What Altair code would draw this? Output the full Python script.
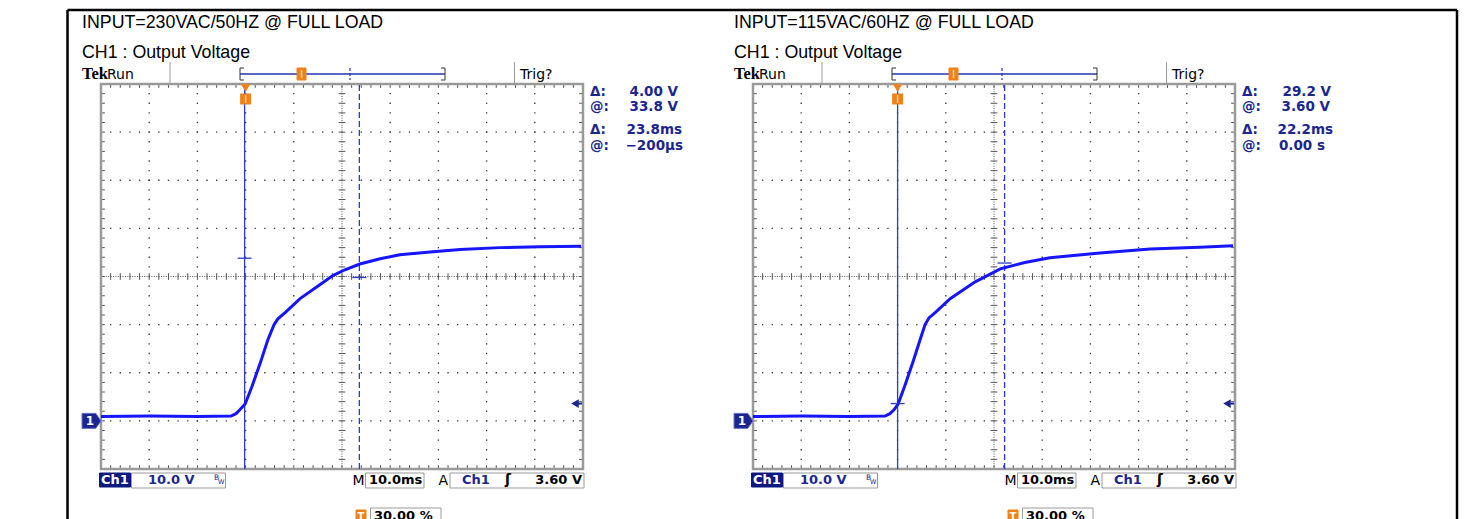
import altair as alt
import numpy as np
import pandas as pd

# ---------------- data ----------------
T_DOMAIN = [-30, 70]        # ms : 10 ms/div, trigger at 30 %
V_DOMAIN = [-10, 70]        # V  : 10 V/div, ground 1 div above bottom
T_INNER = [-20, -10, 0, 10, 30, 40, 50, 60]
V_INNER = [0, 10, 20, 40, 50, 60]
T_CENTER = 20
V_CENTER = 30

TITLES = ["INPUT=230VAC/50HZ @ FULL LOAD", "INPUT=115VAC/60HZ @ FULL LOAD"]
SUBTITLE = "CH1 : Output Voltage"

TRACE_230_T = [-30, -20, -10, -3.0, -2.0, -1.2, -0.1, 1.3, 3.0, 4.6, 5.9, 6.7, 8.2,
               11.3, 15.4, 18.1, 20.6, 23.7, 27.9, 32.0, 38.3, 44.5, 52.8, 61.1, 69.6]
TRACE_230_V = [0.9, 1.0, 0.9, 1.0, 1.5, 2.3, 3.5, 7.1, 11.9, 16.8, 20.0, 21.2, 22.5,
               25.4, 28.3, 30.2, 31.4, 32.6, 33.7, 34.5, 35.1, 35.6, 36.0, 36.2, 36.3]

TRACE_115_T = [-30, -20, -10, -2.6, -1.6, -0.75, 0.1, 1.5, 3.2, 4.65, 5.7, 6.5, 7.8,
               10.9, 16.1, 21.3, 26.4, 31.6, 42.0, 52.4, 62.7, 69.6]
TRACE_115_V = [0.9, 1.0, 0.9, 1.0, 1.5, 2.3, 3.5, 7.3, 12.3, 16.8, 20.0, 21.4, 22.5,
               25.4, 28.9, 31.6, 32.9, 33.9, 34.9, 35.7, 36.1, 36.4]

CURSOR_230_T = [-0.2, 23.6]
CURSOR_230_V = [33.8, 29.8]
CURSOR_115_T = [0.0, 22.2]
CURSOR_115_V = [3.6, 32.8]

READOUT_KEYS = ["\u0394:", "@:", "\u0394:", "@:"]
READOUT_230 = ["4.00 V", "33.8 V", "23.8ms", "\u2212200\u00b5s"]
READOUT_115 = ["29.2 V", "3.60 V", "22.2ms", "0.00 s"]

CH_SCALE = "10.0 V"
TIME_SCALE = "10.0ms"
TRIG_LEVEL = 3.6
TRIG_LEVEL_TXT = "3.60 V"
TRIG_POS_TXT = "30.00 %"

# ---------------- style ----------------
W, H = 482, 385
NAVY = "#1b2690"
TRACE = "#1515ff"
CURSOR = "#2c3cc8"
ORANGE = "#f08018"
GRIDC = "#3a3a3a"
BORDER = "#9a9a9a"
TEK = "DejaVu Sans"
NARROW = "Liberation Sans"

xs = alt.Scale(domain=T_DOMAIN, nice=False, zero=False)
ys = alt.Scale(domain=V_DOMAIN, nice=False, zero=False)
ONE = pd.DataFrame({"a": [0]})


def X(f="t"):
    return alt.X(f"{f}:Q", scale=xs, axis=None)


def Y(f="v"):
    return alt.Y(f"{f}:Q", scale=ys, axis=None)


def text(s, x, y, size=13, color=NAVY, font=TEK, weight="bold", align="left"):
    return alt.Chart(ONE).mark_text(
        text=s, fontSize=size, color=color, font=font, fontWeight=weight,
        align=align, baseline="alphabetic"
    ).encode(x=alt.value(x), y=alt.value(y))


def box(x1, x2, y1, y2, fill="white", stroke=BORDER, sw=1):
    return alt.Chart(ONE).mark_rect(fill=fill, stroke=stroke, strokeWidth=sw).encode(
        x=alt.value(x1), x2=alt.value(x2), y=alt.value(y1), y2=alt.value(y2))


def seg(x1, x2, y1, y2, color, sw=1.0, dash=None):
    kw = {"strokeDash": dash} if dash else {}
    return alt.Chart(ONE).mark_rule(color=color, strokeWidth=sw, **kw).encode(
        x=alt.value(x1), x2=alt.value(x2), y=alt.value(y1), y2=alt.value(y2))


minor_t = np.round(np.arange(T_DOMAIN[0], T_DOMAIN[1] + 0.001, 2), 6)
minor_v = np.round(np.arange(V_DOMAIN[0], V_DOMAIN[1] + 0.001, 2), 6)

dots_df = pd.DataFrame(
    [{"t": tt, "v": vv} for tt in T_INNER for vv in minor_v[1:-1]]
    + [{"t": tt, "v": vv} for vv in V_INNER for tt in minor_t[1:-1]]
)
tick_rows = []
for vv in minor_v[1:-1]:
    tick_rows.append({"t": T_CENTER - 0.7, "t2": T_CENTER + 0.7, "v": vv, "v2": vv})
    tick_rows.append({"t": T_DOMAIN[0], "t2": T_DOMAIN[0] + 0.8, "v": vv, "v2": vv})
    tick_rows.append({"t": T_DOMAIN[1] - 0.8, "t2": T_DOMAIN[1], "v": vv, "v2": vv})
for tt in minor_t[1:-1]:
    tick_rows.append({"t": tt, "t2": tt, "v": V_CENTER - 0.7, "v2": V_CENTER + 0.7})
    tick_rows.append({"t": tt, "t2": tt, "v": V_DOMAIN[0], "v2": V_DOMAIN[0] + 0.8})
    tick_rows.append({"t": tt, "t2": tt, "v": V_DOMAIN[1] - 0.8, "v2": V_DOMAIN[1]})
ticks_df = pd.DataFrame(tick_rows)
center_df = pd.DataFrame([
    {"t": T_CENTER, "t2": T_CENTER, "v": V_DOMAIN[0], "v2": V_DOMAIN[1]},
    {"t": T_DOMAIN[0], "t2": T_DOMAIN[1], "v": V_CENTER, "v2": V_CENTER},
])
frame_df = pd.DataFrame([{"t": T_DOMAIN[0], "t2": T_DOMAIN[1], "v": V_DOMAIN[0], "v2": V_DOMAIN[1]}])

GROUND_SHAPE = "M-1,-0.79 L0.45,-0.79 L1,0 L0.45,0.79 L-1,0.79 Z"


def panel(title, tr_t, tr_v, cur_t, cur_v, readout, ends, page_frame=False):
    L = []
    # graticule
    L.append(alt.Chart(dots_df).mark_square(size=1.8, color=GRIDC, opacity=1).encode(x=X(), y=Y()))
    L.append(alt.Chart(center_df).mark_rule(color="#555555", strokeWidth=1, strokeDash=[1, 1.4]).encode(
        x=X(), x2="t2:Q", y=Y(), y2="v2:Q"))
    L.append(alt.Chart(ticks_df).mark_rule(color="#555555", strokeWidth=1).encode(
        x=X(), x2="t2:Q", y=Y(), y2="v2:Q"))
    L.append(alt.Chart(frame_df).mark_rect(fillOpacity=0, stroke=BORDER, strokeWidth=2.5).encode(
        x=X(), x2="t2:Q", y=Y(), y2="v2:Q"))
    # cursors
    cdf = pd.DataFrame({"t": cur_t, "v": [V_DOMAIN[0]] * 2, "v2": [V_DOMAIN[1]] * 2})
    L.append(alt.Chart(cdf.iloc[[0]]).mark_rule(color=CURSOR, strokeWidth=1.3).encode(x=X(), y=Y(), y2="v2:Q"))
    L.append(alt.Chart(cdf.iloc[[1]]).mark_rule(color=CURSOR, strokeWidth=1.3, strokeDash=[6, 3]).encode(
        x=X(), y=Y(), y2="v2:Q"))
    # trace
    L.append(alt.Chart(pd.DataFrame({"t": tr_t, "v": tr_v})).mark_line(
        color=TRACE, strokeWidth=3, interpolate="linear").encode(x=X(), y=Y(), order="t:Q"))
    # cursor markers
    mdf = pd.DataFrame({"t": [c - 1.45 for c in cur_t], "t2": [c + 1.45 for c in cur_t], "v": cur_v})
    L.append(alt.Chart(mdf).mark_rule(color=CURSOR, strokeWidth=1.3).encode(x=X(), x2="t2:Q", y=Y()))
    # trigger position marker (top of graticule)
    tdf = pd.DataFrame({"t": [0.0]})
    L.append(alt.Chart(tdf).mark_point(shape="triangle-down", filled=True, color=ORANGE, size=90, opacity=1).encode(
        x=X(), y=alt.value(4)))
    L.append(alt.Chart(tdf).mark_square(color=ORANGE, size=120, opacity=1).encode(x=X(), y=alt.value(15)))
    L.append(alt.Chart(tdf).mark_rule(color="#ffd0a0", strokeWidth=1.5).encode(
        x=X(), y=alt.value(11), y2=alt.value(19)))
    # trigger level arrow on right edge
    ldf = pd.DataFrame({"v": [TRIG_LEVEL]})
    L.append(alt.Chart(ldf).mark_point(shape="triangle-left", filled=True, color=NAVY, size=75, opacity=1).encode(
        x=alt.value(W - 8), y=Y()))
    L.append(alt.Chart(ldf).mark_rule(color=NAVY, strokeWidth=2).encode(
        x=alt.value(W - 7), x2=alt.value(W - 1), y=Y()))
    # ground marker
    gdf = pd.DataFrame({"v": [0.0]})
    L.append(alt.Chart(gdf).mark_point(shape=GROUND_SHAPE, filled=True, color=NAVY, size=361, opacity=1,
                                       stroke="#6a74c8", strokeWidth=1).encode(x=alt.value(-9.5), y=Y()))
    L.append(alt.Chart(gdf).mark_text(text="1", color="white", fontSize=12, font=TEK, fontWeight="bold",
                                      baseline="middle", align="center").encode(x=alt.value(-11), y=Y()))
    # header
    L.append(text(title, -19, -56.5, size=17.8, color="black", font=NARROW, weight="normal"))
    L.append(text(SUBTITLE, -19, -26, size=17.8, color="black", font=NARROW, weight="normal"))
    L.append(text("Tek", -19, -5.5, size=16.5, color="black", font="Liberation Serif", weight="bold"))
    L.append(text("Run", 6, -5.5, size=14, color="black", font=TEK, weight="normal"))
    L.append(seg(69, 69, -22, -1, "#9a9a9a", 1))
    L.append(seg(413.5, 413.5, -22, -1, "#9a9a9a", 1))
    L.append(text("Trig?", 419, -5.5, size=14, color="black", font=TEK, weight="normal"))
    L.append(seg(139, 344, -10, -10, "#5a66c8", 2))
    L.append(seg(139, 139, -16, -4, "#333333", 1))
    L.append(seg(139, 143, -16, -16, "#333333", 1))
    L.append(seg(139, 143, -4, -4, "#333333", 1))
    L.append(seg(344, 344, -16, -4, "#333333", 1))
    L.append(seg(340, 344, -16, -16, "#333333", 1))
    L.append(seg(340, 344, -4, -4, "#333333", 1))
    L.append(seg(249, 249, -16, -4, "#2233aa", 1.2, [3, 2]))
    L.append(box(196, 205, -16, -4, fill=ORANGE, stroke=ORANGE, sw=1))
    L.append(seg(200.5, 200.5, -14, -6, "#ffd0a0", 1.5))
    # cursor readouts
    rows_y = [12, 27, 50, 66]
    for k in range(4):
        L.append(text(READOUT_KEYS[k], W + 7, rows_y[k], size=13.5))
        L.append(text(readout[k], W + ends[k], rows_y[k], size=13.5, align="right"))
    # bottom status line
    L.append(box(-1.5, 29.5, 389, 403, fill="#0f1a80", stroke="#0f1a80"))
    L.append(text("Ch1", 14, 400, color="white", align="center"))
    L.append(box(30.5, 124.5, 389, 404))
    L.append(text(CH_SCALE, 47, 400))
    L.append(text("B", 113, 396, size=7.5, weight="normal"))
    L.append(text("W", 117, 400, size=6.5, weight="normal"))
    L.append(text("M", 251.5, 401, size=14, color="black", weight="normal"))
    L.append(box(264.5, 323, 389, 404))
    L.append(text(TIME_SCALE, 268, 400, color="black"))
    L.append(text("A", 337.5, 401, size=14, color="black", weight="normal"))
    L.append(box(349, 483, 389, 404))
    L.append(text("Ch1", 361, 400))
    L.append(text("\u0283", 404, 400, size=14, color="black"))
    L.append(text(TRIG_LEVEL_TXT, 481, 400, color="black", align="right"))
    L.append(box(255, 265, 426, 438, fill=ORANGE, stroke=ORANGE))
    L.append(text("T", 260, 435.5, size=10, color="white", align="center"))
    L.append(box(269.5, 340, 424, 438))
    L.append(text(TRIG_POS_TXT, 273, 436, color="black"))
    if page_frame:
        L.append(seg(-33.5, 1356, -74, -74, "black", 2.5))
        L.append(seg(-33.5, -33.5, -74, 437, "black", 2.5))
        L.append(seg(1356, 1356, -74, 437, "black", 2.5))
    return alt.layer(*L).properties(width=W, height=H)


left = panel(TITLES[0], TRACE_230_T, TRACE_230_V, CURSOR_230_T, CURSOR_230_V, READOUT_230,
             [95, 95, 99, 100], page_frame=True)
right = panel(TITLES[1], TRACE_115_T, TRACE_115_V, CURSOR_115_T, CURSOR_115_V, READOUT_115,
              [96, 95, 98, 90])

chart = alt.hconcat(left, right, spacing=170, bounds="flush").properties(
    padding={"left": 58, "top": 0, "right": 0, "bottom": 0}
).configure_view(strokeWidth=0)

chart.save("out.html", embed_options={"renderer": "svg", "actions": False})
